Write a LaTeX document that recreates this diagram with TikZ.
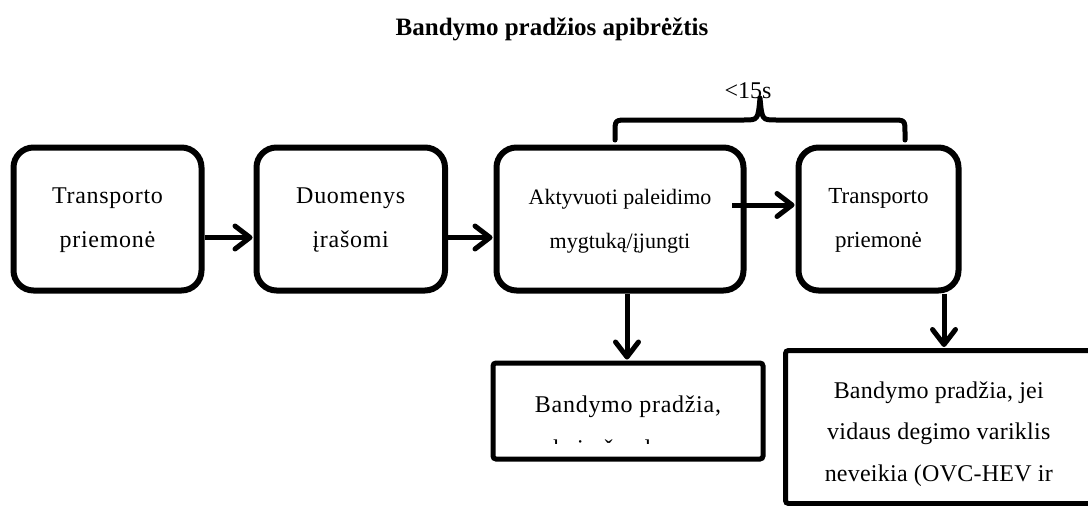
\documentclass[tikz,border=0pt]{standalone}
\usepackage{fontspec}
\setmainfont{Liberation Serif}
\newfontfamily\lswide{Liberation Serif}[LetterSpace=3]
\newfontfamily\lsslight{Liberation Serif}[LetterSpace=1]
\usetikzlibrary{arrows.meta}
\newcommand{\fstrut}[1]{\rule{0pt}{#1}}
\tikzset{
  flowbox/.style={draw, line width=6pt, rounded corners=20pt, inner sep=0pt,
    align=center, font=\lswide\fontsize{24}{44}\selectfont},
  databox/.style={draw, line width=5pt, rounded corners=3pt, inner sep=0pt,
    align=center, font=\lsslight\fontsize{24}{41.5}\selectfont},
  plaintext/.style={inner sep=0pt, anchor=base, font=\lswide\fontsize{24}{41.5}\selectfont},
  flowarrow/.style={line width=5pt, -{Straight Barb[length=15pt,width=23pt,round]}, shorten >=1pt},
  bracepath/.style={line width=5pt, line cap=round, line join=round},
}
\begin{document}
\begin{tikzpicture}[x=1pt,y=-1pt]
\useasboundingbox (0,0) rectangle (1088,506);
\clip (0,0) rectangle (1088,506);

\node[anchor=base, inner sep=0pt, font=\fontsize{25}{30}\selectfont\bfseries] (title) at (552,35) {Bandymo pradžios apibrėžtis};

\node[flowbox, minimum width=188pt, minimum height=143pt] (box1) at (107.5,219) {\fstrut{18.5pt}Transporto\\priemonė};
\node[flowbox, minimum width=188.5pt, minimum height=143pt] (box2) at (350.75,219) {\fstrut{18.5pt}Duomenys\\įrašomi};
\node[flowbox, minimum width=247pt, minimum height=143pt, font=\rmfamily\fontsize{22}{44}\selectfont] (box3) at (620,219) {\fstrut{19pt}Aktyvuoti paleidimo\\mygtuką/įjungti};
\node[flowbox, minimum width=160pt, minimum height=143pt, font=\rmfamily\fontsize{23}{44}\selectfont] (box4) at (878.5,219) {\fstrut{18.5pt}Transporto\\priemonė};

\node[databox, minimum width=270pt, minimum height=96pt] (box5) at (628,411) {};
\begin{scope}
  \clip (493,363) rectangle (763,443);
  \node[plaintext] (t5a) at (628,412) {Bandymo pradžia,};
  \node[plaintext] (t5b) at (628,456) {kai užvedamas};
\end{scope}

\node[databox, minimum width=306.5pt, minimum height=153pt] (box6) at (938.75,427) {\fstrut{31pt}Bandymo pradžia, jei\\vidaus degimo variklis\\neveikia (OVC-HEV ir};

\coordinate (r1) at (0,237.5);
\coordinate (a3s) at (732,205);
\coordinate (c4) at (627,0);
\coordinate (c5) at (944,0);

\draw[flowarrow] (box1.east |- r1) -- (box2.west |- r1);
\draw[flowarrow] (box2.east |- r1) -- (box3.west |- r1);
\draw[flowarrow] (a3s) -- (box4.west |- a3s);
\draw[flowarrow] (box3.south -| c4) -- (box5.north -| c4);
\draw[flowarrow] (box4.south -| c5) -- (box6.north -| c5);

\draw[bracepath] (615,140) -- (615,133) .. controls (615,120) .. (628,120) -- (744,120)
  .. controls (758,120) .. (760,98) .. controls (762,120) .. (776,120) -- (892,120)
  .. controls (905,120) .. (905,133) -- (905,140);
\node[anchor=base, inner sep=0pt, font=\fontsize{24}{28}\selectfont] (lbl) at (748,98) {<15s};
\end{tikzpicture}
\end{document}
